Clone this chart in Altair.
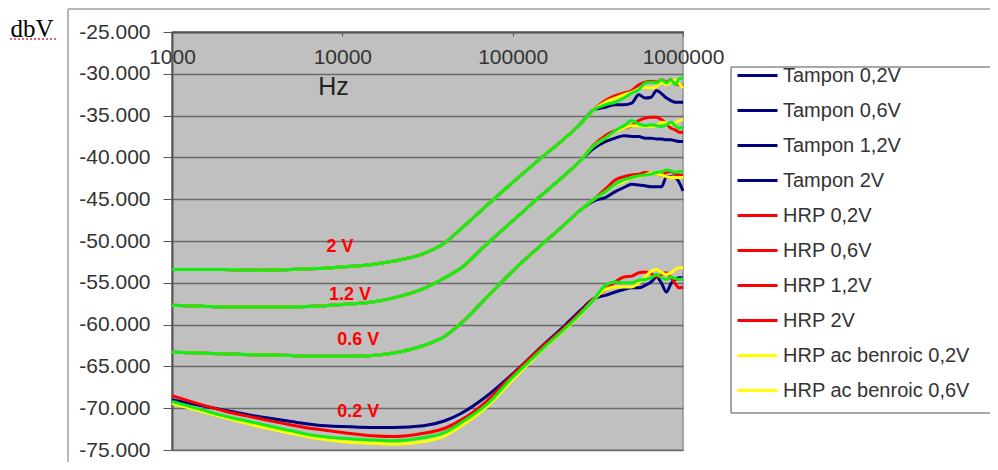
import altair as alt
import pandas as pd

# Frequencies (Hz)
FREQ = [1000, 1500, 2000, 3000, 5000, 7000, 10000, 15000, 20000, 30000, 40000,
        50000, 70000, 100000, 150000, 200000, 250000, 300000, 350000, 400000,
        450000, 500000, 550000, 600000, 650000, 700000, 750000, 800000, 850000,
        900000, 950000, 1000000]

# 0.2 V group
TAMPON_02 = [-69.0, -69.7, -70.2, -70.9, -71.6, -72.0, -72.2, -72.3, -72.3, -72.1, -71.5, -70.6, -68.6, -65.9, -62.5, -60.2, -58.3,
             -56.9, -56.5, -56.1, -55.8, -55.6, -55.6, -55.3, -54.9, -54.3, -55.1, -56.1, -55.1, -54.6, -54.4, -54.4]
HRP_02 = [-68.5, -69.6, -70.3, -71.1, -72.0, -72.5, -72.9, -73.3, -73.4, -73.0, -72.4, -71.4, -69.2, -66.0, -62.6, -60.4, -58.5,
          -56.9, -55.8, -54.9, -54.3, -54.2, -53.8, -53.7, -53.9, -54.3, -54.0, -53.8, -54.4, -55.1, -55.6, -55.5]
BENR_02 = [-69.4, -70.4, -71.1, -72.0, -73.0, -73.6, -74.0, -74.2, -74.3, -74.0, -73.3, -72.1, -69.9, -66.6, -63.0, -60.7, -58.8,
           -57.0, -55.8, -55.5, -55.5, -55.5, -55.0, -54.3, -53.6, -53.4, -53.8, -54.0, -53.8, -53.4, -53.2, -53.2]
AUTRE_02 = [-69.2, -70.2, -70.9, -71.7, -72.7, -73.3, -73.6, -73.8, -73.9, -73.5, -72.9, -71.7, -69.6, -66.3, -62.9, -60.6, -58.7,
            -57.0, -55.3, -54.9, -55.0, -55.0, -54.7, -54.6, -54.4, -54.0, -54.4, -54.6, -54.3, -54.5, -54.6, -54.5]

# 0.6 V group
TAMPON_06 = [-63.3, -63.4, -63.5, -63.6, -63.7, -63.8, -63.8, -63.7, -63.4, -62.5, -61.4, -59.8, -56.8, -53.6, -50.3, -48.1, -46.3,
             -45.2, -44.8, -44.1, -43.6, -43.2, -43.3, -43.4, -43.5, -43.5, -43.5, -42.3, -42.3, -42.4, -43.0, -44.0]
HRP_06 = [-63.3, -63.4, -63.5, -63.6, -63.7, -63.8, -63.8, -63.7, -63.4, -62.5, -61.4, -59.8, -56.8, -53.6, -50.3, -48.1, -46.3,
          -45.0, -43.8, -42.7, -42.3, -42.1, -42.0, -41.8, -41.8, -42.0, -42.1, -41.8, -41.7, -42.0, -42.1, -42.2]
BENR_06 = [-63.3, -63.4, -63.5, -63.6, -63.7, -63.8, -63.8, -63.7, -63.4, -62.5, -61.4, -59.8, -56.8, -53.6, -50.3, -48.1, -46.3,
           -45.0, -44.1, -43.3, -42.9, -42.4, -42.3, -42.1, -41.8, -42.0, -42.1, -42.3, -42.4, -42.4, -42.4, -42.4]
AUTRE_06 = [-63.3, -63.4, -63.5, -63.6, -63.7, -63.8, -63.8, -63.7, -63.4, -62.5, -61.4, -59.8, -56.8, -53.6, -50.3, -48.1, -46.3,
            -45.0, -44.1, -43.2, -42.7, -42.4, -42.2, -42.1, -42.0, -41.8, -41.7, -41.5, -41.6, -41.8, -41.7, -41.7]

# 1.2 V group
TAMPON_12 = [-57.7, -57.8, -57.9, -57.9, -57.9, -57.8, -57.6, -57.3, -56.8, -55.7, -54.4, -53.2, -50.4, -47.6, -44.4, -42.2, -40.4,
             -38.9, -38.1, -37.7, -37.4, -37.5, -37.5, -37.7, -37.7, -37.8, -37.8, -37.9, -37.9, -38.0, -38.1, -38.1]
HRP_12 = [-57.7, -57.8, -57.9, -57.9, -57.9, -57.8, -57.6, -57.3, -56.8, -55.7, -54.4, -53.2, -50.4, -47.6, -44.4, -42.2, -40.4,
          -38.5, -37.4, -36.8, -36.5, -36.2, -35.6, -35.3, -35.2, -35.2, -35.5, -36.0, -36.5, -36.7, -37.0, -37.0]
BENR_12 = [-57.7, -57.8, -57.9, -57.9, -57.9, -57.8, -57.6, -57.3, -56.8, -55.7, -54.4, -53.2, -50.4, -47.6, -44.4, -42.2, -40.4,
           -38.6, -37.7, -36.9, -36.5, -36.2, -36.2, -36.3, -36.3, -36.2, -35.8, -35.9, -36.0, -35.9, -35.6, -35.5]
AUTRE_12 = [-57.7, -57.8, -57.9, -57.9, -57.9, -57.8, -57.6, -57.3, -56.8, -55.7, -54.4, -53.2, -50.4, -47.6, -44.4, -42.2, -40.4,
            -38.6, -37.7, -36.8, -36.2, -35.6, -36.0, -36.2, -36.1, -36.2, -36.3, -36.1, -35.8, -36.2, -36.5, -36.3]

# 2 V group
TAMPON_2 = [-53.4, -53.4, -53.4, -53.5, -53.4, -53.3, -53.1, -52.8, -52.4, -51.5, -50.2, -48.5, -45.8, -43.0, -39.9, -37.8, -36.0,
            -34.3, -34.0, -33.7, -33.7, -33.5, -32.5, -32.9, -32.8, -32.0, -32.4, -32.9, -33.2, -33.4, -33.4, -33.4]
HRP_2 = [-53.4, -53.4, -53.4, -53.5, -53.4, -53.3, -53.1, -52.8, -52.4, -51.5, -50.2, -48.5, -45.8, -43.0, -39.9, -37.8, -36.0,
         -34.3, -33.2, -32.6, -32.3, -32.0, -31.3, -31.0, -30.9, -31.0, -30.7, -31.0, -30.7, -31.2, -31.3, -31.5]
BENR_2 = [-53.4, -53.4, -53.4, -53.5, -53.4, -53.3, -53.1, -52.8, -52.4, -51.5, -50.2, -48.5, -45.8, -43.0, -39.9, -37.8, -36.0,
          -34.3, -33.4, -32.9, -32.5, -32.2, -31.8, -31.6, -31.7, -31.5, -31.0, -31.3, -31.0, -30.7, -31.2, -31.7]
AUTRE_2 = [-53.4, -53.4, -53.4, -53.5, -53.4, -53.3, -53.1, -52.8, -52.4, -51.5, -50.2, -48.5, -45.8, -43.0, -39.9, -37.8, -36.0,
           -34.3, -33.7, -33.4, -32.9, -32.3, -31.9, -31.1, -31.0, -31.1, -30.7, -31.1, -30.7, -31.3, -30.6, -30.5]

SERIES = [
    ("Tampon 0,2V", "Tampon", TAMPON_02),
    ("Tampon 0,6V", "Tampon", TAMPON_06),
    ("Tampon 1,2V", "Tampon", TAMPON_12),
    ("Tampon 2V", "Tampon", TAMPON_2),
    ("HRP 0,2V", "HRP", HRP_02),
    ("HRP 0,6V", "HRP", HRP_06),
    ("HRP 1,2V", "HRP", HRP_12),
    ("HRP 2V", "HRP", HRP_2),
    ("HRP ac benroic 0,2V", "Benroic", BENR_02),
    ("HRP ac benroic 0,6V", "Benroic", BENR_06),
    ("HRP ac benroic 1,2V", "Benroic", BENR_12),
    ("HRP ac benroic 2V", "Benroic", BENR_2),
    ("Autre 0,2V", "Autre", AUTRE_02),
    ("Autre 0,6V", "Autre", AUTRE_06),
    ("Autre 1,2V", "Autre", AUTRE_12),
    ("Autre 2V", "Autre", AUTRE_2),
]
FAMILY_COLORS = {"Tampon": "#000080", "HRP": "#ff0000", "Benroic": "#ffff00", "Autre": "#11ee11"}
LEGEND_SHOWN = [s[0] for s in SERIES[:10]]

LABEL_TEXT = ["2 V", "1.2 V", "0.6 V", "0.2 V"]
LABEL_FREQ = [9700, 11100, 12400, 12400]
LABEL_DB = [-50.7, -56.4, -61.8, -70.4]

rows = []
for name, fam, vals in SERIES:
    for f, v in zip(FREQ, vals):
        rows.append({"freq": f, "db": v, "series": name, "family": fam})
df = pd.DataFrame(rows)

names = [s[0] for s in SERIES]
colors = [FAMILY_COLORS[s[1]] for s in SERIES]

FONT = "Liberation Sans"

x_enc = alt.X("freq:Q", scale=alt.Scale(type="log", domain=[1000, 1000000], nice=False),
              axis=alt.Axis(orient="bottom", offset=-418, values=[1000, 10000, 100000, 1000000],
                            format="d", labelFontSize=21, labelFont=FONT, labelColor="#333",
                            labelPadding=10, tickSize=4, tickColor="#555", domainColor="#555",
                            domainWidth=2, grid=False, labelFlush=False, labelOverlap=False,
                            title="Hz", titleX=161, titleY=54, titleFontSize=25, titleFont=FONT,
                            titleFontWeight="normal", titleAlign="center", titleBaseline="middle",
                            titleColor="#222"))
y_enc = alt.Y("db:Q", scale=alt.Scale(domain=[-75, -25], nice=False, zero=False),
              axis=alt.Axis(values=list(range(-75, -24, 5)),
                            labelExpr="(datum.value < 0 ? '-' : '') + format(abs(datum.value), '.3f')",
                            labelFontSize=21, labelFont=FONT, labelColor="#333", labelPadding=13,
                            tickSize=9, tickColor="#555", domainColor="#555", domainWidth=2,
                            gridColor="#6a6a6a", gridWidth=1.5,
                            title="dbV", titleAngle=0, titleX=-162, titleY=-4, titleAlign="left",
                            titleBaseline="middle", titleFont="Liberation Serif", titleFontSize=25,
                            titleFontWeight="normal", titleColor="#000"))
color_enc = alt.Color("series:N", scale=alt.Scale(domain=names, range=colors),
                      legend=alt.Legend(title=None, orient="none", legendX=564, legendY=22,
                                        values=LEGEND_SHOWN, symbolType="stroke", symbolSize=1600,
                                        symbolStrokeWidth=3, labelFontSize=20, labelFont=FONT,
                                        labelColor="#333", rowPadding=3, padding=0, labelOffset=4,
                                        labelLimit=400))

base = alt.Chart(df)
line_layers = []
for fam in ["Tampon", "HRP", "Benroic", "Autre"]:
    line_layers.append(
        base.transform_filter(alt.datum.family == fam)
        .mark_line(strokeWidth=3, interpolate="monotone")
        .encode(x=x_enc, y=y_enc, color=color_enc, detail="series:N")
    )

lab_df = pd.DataFrame({"freq": LABEL_FREQ, "db": LABEL_DB, "txt": LABEL_TEXT})
labels = alt.Chart(lab_df).mark_text(color="#ff0000", fontWeight="bold", fontSize=18, font=FONT).encode(
    x=alt.X("freq:Q"), y=alt.Y("db:Q"), text="txt:N")

one = pd.DataFrame({"k": [0]})
frame_v = alt.Chart(one).mark_rule(color="#a0a0a0", strokeWidth=1.5).encode(
    x=alt.value(-104), y=alt.value(-23), y2=alt.value(430))
frame_h = alt.Chart(one).mark_rule(color="#a0a0a0", strokeWidth=1.5).encode(
    x=alt.value(-104), x2=alt.value(818), y=alt.value(-23))
spell = alt.Chart(one).mark_rule(color="#e03030", strokeWidth=1.5, strokeDash=[2, 2]).encode(
    x=alt.value(-162), x2=alt.value(-116), y=alt.value(7))
leg_l = alt.Chart(one).mark_rule(color="#8a8a8a", strokeWidth=1.5).encode(
    x=alt.value(559), y=alt.value(35), y2=alt.value(381))
leg_t = alt.Chart(one).mark_rule(color="#8a8a8a", strokeWidth=1.5).encode(
    x=alt.value(559), x2=alt.value(818), y=alt.value(35))
leg_b = alt.Chart(one).mark_rule(color="#8a8a8a", strokeWidth=1.5).encode(
    x=alt.value(559), x2=alt.value(818), y=alt.value(381))

chart = alt.layer(frame_v, frame_h, spell, leg_l, leg_t, leg_b, *line_layers, labels).properties(
    width=511, height=418,
    padding={"left": 164, "top": 24, "right": 307, "bottom": 12},
    autosize=alt.AutoSizeParams(type="none"),
    background="white",
).configure_view(fill="#c0c0c0", stroke="#909090", strokeWidth=1.5)

chart.save("out.html", embed_options={"renderer": "svg", "actions": False})
